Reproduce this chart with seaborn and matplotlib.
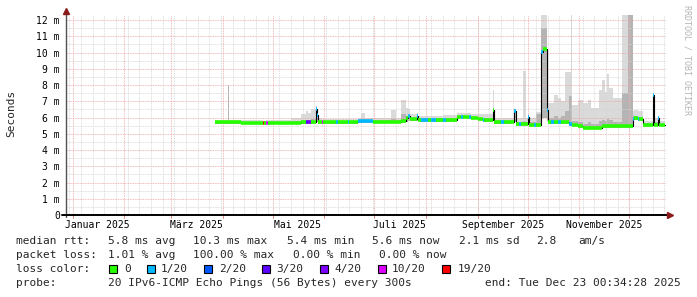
import matplotlib
matplotlib.use("Agg")
import matplotlib.pyplot as plt
import seaborn as sns
import pandas as pd
from matplotlib.patches import Rectangle

# ---------------- data ----------------
dates = [
    "2025-03-27 12:00", "2025-04-04 00:00", "2025-04-04 18:00", "2025-04-12 00:00", "2025-04-25 00:00",
    "2025-04-26 00:00", "2025-04-27 00:00", "2025-04-28 00:00", "2025-05-12 00:00", "2025-05-18 00:00",
    "2025-05-21 00:00", "2025-05-22 12:00", "2025-05-24 00:00", "2025-05-27 06:00", "2025-05-27 20:00",
    "2025-05-28 12:00", "2025-05-30 12:00", "2025-05-31 06:00", "2025-06-08 00:00", "2025-06-09 00:00",
    "2025-06-15 00:00", "2025-06-16 00:00", "2025-06-21 00:00", "2025-06-23 00:00", "2025-06-25 12:00",
    "2025-06-30 00:00", "2025-07-11 00:00", "2025-07-14 00:00", "2025-07-17 00:00", "2025-07-20 00:00",
    "2025-07-21 00:00", "2025-07-22 06:00", "2025-07-26 12:00", "2025-07-27 12:00", "2025-07-29 00:00",
    "2025-08-02 00:00", "2025-08-04 00:00", "2025-08-07 00:00", "2025-08-11 00:00", "2025-08-13 00:00",
    "2025-08-19 12:00", "2025-08-22 00:00", "2025-08-23 00:00", "2025-08-27 00:00", "2025-08-28 00:00",
    "2025-09-01 00:00", "2025-09-04 00:00", "2025-09-05 00:00", "2025-09-10 00:00", "2025-09-11 00:00",
    "2025-09-15 00:00", "2025-09-17 00:00", "2025-09-23 00:00", "2025-09-24 00:00", "2025-09-26 00:00",
    "2025-09-27 00:00", "2025-09-28 00:00", "2025-09-30 00:00", "2025-10-01 00:00", "2025-10-02 00:00",
    "2025-10-05 00:00", "2025-10-06 00:00", "2025-10-09 00:00", "2025-10-10 12:00", "2025-10-12 12:00",
    "2025-10-13 12:00", "2025-10-15 00:00", "2025-10-17 00:00", "2025-10-19 00:00", "2025-10-21 00:00",
    "2025-10-23 12:00", "2025-10-26 00:00", "2025-10-27 00:00", "2025-10-27 16:00", "2025-10-31 00:00",
    "2025-11-03 00:00", "2025-11-06 00:00", "2025-11-08 00:00", "2025-11-13 00:00", "2025-11-14 12:00",
    "2025-11-16 12:00", "2025-11-17 12:00", "2025-11-19 00:00", "2025-11-21 00:00", "2025-11-26 12:00",
    "2025-11-30 00:00", "2025-12-03 00:00", "2025-12-04 00:00", "2025-12-06 00:00", "2025-12-07 00:00",
    "2025-12-09 00:00", "2025-12-15 00:00", "2025-12-16 00:00", "2025-12-18 00:00", "2025-12-18 18:00",
]
data_end = "2025-12-22 14:00"

median_ms = [
    5.72, 5.70, 5.70, 5.68, 5.66, 5.68, 5.68, 5.68, 5.68, 5.70,
    5.74, 5.74, 5.70, 6.50, 6.15, 5.70, 5.72, 5.72, 5.72, 5.72,
    5.74, 5.72, 5.76, 5.76, 5.76, 5.74, 5.74, 5.75, 5.78, 5.95,
    6.12, 5.90, 6.10, 5.85, 5.85, 5.85, 5.85, 5.85, 5.85, 5.85,
    6.05, 6.05, 6.05, 6.03, 5.98, 5.93, 5.83, 5.83, 6.45, 5.72,
    5.72, 5.72, 6.40, 5.58, 5.58, 5.58, 5.58, 5.58, 6.05, 5.55,
    5.55, 5.55, 10.05, 10.20, 6.45, 5.75, 5.75, 5.75, 5.75, 5.75,
    5.72, 5.62, 5.60, 5.55, 5.45, 5.37, 5.37, 5.37, 5.37, 5.48,
    5.48, 5.48, 5.48, 5.48, 5.48, 5.48, 5.92, 5.95, 5.92, 5.92,
    5.55, 7.40, 5.55, 5.95, 5.55,
]
loss = [
    0, 0, 0, 0, 19, 0, 10, 0, 0, 0,
    3, 4, 0, 1, 1, 0, 10, 0, 1, 0,
    1, 0, 1, 1, 1, 0, 0, 0, 0, 0,
    1, 0, 1, 0, 1, 0, 1, 0, 1, 0,
    0, 1, 0, 1, 0, 0, 1, 0, 0, 0,
    1, 0, 1, 0, 1, 0, 0, 0, 1, 0,
    1, 0, 1, 0, 1, 0, 1, 0, 1, 0,
    0, 1, 1, 0, 0, 0, 0, 0, 0, 0,
    0, 0, 0, 0, 0, 0, 1, 0, 1, 0,
    0, 1, 0, 1, 0,
]
smoke_lo = [
    5.62, 5.60, 5.60, 5.58, 5.58, 5.58, 5.58, 5.58, 5.58, 5.60,
    5.62, 5.62, 5.60, 5.70, 5.70, 5.60, 5.62, 5.62, 5.62, 5.62,
    5.64, 5.62, 5.66, 5.66, 5.66, 5.64, 5.64, 5.64, 5.66, 5.75,
    5.80, 5.78, 5.80, 5.75, 5.75, 5.75, 5.75, 5.75, 5.75, 5.75,
    5.95, 5.95, 5.95, 5.93, 5.88, 5.83, 5.73, 5.73, 5.80, 5.62,
    5.62, 5.62, 5.70, 5.48, 5.48, 5.48, 5.48, 5.48, 5.55, 5.45,
    5.45, 5.45, 6.00, 6.00, 5.80, 5.62, 5.62, 5.62, 5.62, 5.62,
    5.60, 5.50, 5.50, 5.45, 5.35, 5.28, 5.28, 5.28, 5.28, 5.38,
    5.38, 5.38, 5.38, 5.38, 5.38, 5.38, 5.80, 5.82, 5.80, 5.80,
    5.45, 5.60, 5.45, 5.50, 5.45,
]
smoke_mid = [
    5.76, 8.00, 5.75, 5.73, 5.72, 5.72, 5.72, 5.73, 5.76, 5.80,
    5.85, 5.85, 5.90, 6.30, 6.20, 5.80, 5.78, 5.78, 5.78, 5.78,
    5.80, 5.78, 5.85, 5.90, 5.85, 5.82, 5.90, 5.85, 6.20, 6.10,
    6.20, 6.00, 6.15, 5.95, 5.95, 5.95, 5.95, 5.95, 5.95, 5.95,
    6.12, 6.12, 6.12, 6.10, 6.05, 6.00, 5.95, 5.95, 6.60, 5.82,
    5.82, 5.82, 6.45, 5.70, 5.70, 5.75, 5.80, 5.75, 6.10, 5.70,
    5.70, 6.20, 11.50, 11.50, 9.00, 6.00, 6.00, 6.10, 6.00, 6.10,
    6.40, 7.30, 7.30, 5.80, 5.70, 5.60, 5.70, 5.60, 5.80, 5.85,
    5.80, 5.90, 5.85, 5.75, 7.50, 12.40, 6.10, 6.10, 6.05, 6.05,
    5.65, 7.40, 5.70, 6.00, 5.65,
]
smoke_hi = [
    5.86, 8.00, 5.85, 5.82, 5.80, 5.80, 5.82, 5.84, 5.95, 6.20,
    6.40, 6.30, 6.50, 6.70, 6.40, 6.00, 5.90, 5.90, 5.90, 5.90,
    5.92, 5.92, 6.00, 6.30, 6.00, 5.95, 6.45, 6.00, 7.10, 6.60,
    6.50, 6.20, 6.30, 6.10, 6.10, 6.10, 6.12, 6.12, 6.15, 6.15,
    6.25, 6.25, 6.25, 6.25, 6.22, 6.20, 6.20, 6.20, 7.70, 6.00,
    6.00, 6.00, 6.55, 5.95, 5.95, 6.00, 8.85, 6.00, 6.20, 5.95,
    6.00, 6.35, 12.40, 12.40, 10.00, 6.90, 6.90, 7.40, 7.20, 7.00,
    8.80, 8.80, 12.30, 6.80, 7.10, 6.90, 7.10, 6.60, 7.70, 8.30,
    7.60, 8.70, 7.80, 7.20, 12.40, 12.40, 6.40, 6.45, 6.40, 6.40,
    5.80, 7.50, 6.00, 6.05, 5.80,
]
assert len(dates) == len(median_ms) == len(loss) == len(smoke_lo) == len(smoke_mid) == len(smoke_hi)

loss_levels = [0, 1, 2, 3, 4, 10, 19]
loss_colors = ["#26ff00", "#00b8ff", "#0059ff", "#5e00ff", "#7e00ff", "#dd00ff", "#ff0000"]
loss_labels = ["0", "1/20", "2/20", "3/20", "4/20", "10/20", "19/20"]

month_labels = ["Januar 2025", "März 2025", "Mai 2025", "Juli 2025", "September 2025", "November 2025"]
month_label_dates = ["2025-01-16", "2025-03-16", "2025-05-16", "2025-07-16", "2025-09-16", "2025-11-16"]
ytick_values = list(range(0, 13))
ytick_labels = ["0"] + [f"{v} m" for v in range(1, 13)]

x_start = "2024-12-28 00:34"
x_end = "2025-12-23 00:34"

legend_rows = [
    ["median rtt:", "5.8 ms avg", "10.3 ms max", "5.4 ms min", "5.6 ms now", "2.1 ms sd", "2.8", "am/s"],
    ["packet loss:", "1.01 % avg", "100.00 % max", "0.00 % min", "0.00 % now"],
]
probe_text = "20 IPv6-ICMP Echo Pings (56 Bytes) every 300s"
end_text = "end: Tue Dec 23 00:34:28 2025"

# ---------------- figure ----------------
sns.set_style("white")
plt.rcParams["font.family"] = ["DejaVu Sans Mono"]
plt.rcParams["axes.unicode_minus"] = False

W, H = 697, 297
fig = plt.figure(figsize=(W / 100, H / 100), dpi=100)
fig.patch.set_facecolor("white")
ax = fig.add_axes([66 / W, 82 / H, 600 / W, 200 / H])
ax.set_facecolor("white")
for s in ax.spines.values():
    s.set_visible(False)

df = pd.DataFrame({
    "date": pd.to_datetime(dates),
    "median": median_ms,
    "loss": loss,
    "lo": smoke_lo,
    "mid": smoke_mid,
    "hi": smoke_hi,
})
df["end"] = list(df["date"].iloc[1:]) + [pd.Timestamp(data_end)]
ext = pd.concat([df, df.iloc[[-1]].assign(date=pd.Timestamp(data_end))], ignore_index=True)

ax.set_xlim(pd.Timestamp(x_start), pd.Timestamp(x_end))
ax.set_ylim(0, 12.31)

# smoke
ax.fill_between(ext["date"], ext["lo"], ext["hi"], step="post", color="#dadada", lw=0, zorder=1)
ax.fill_between(ext["date"], ext["lo"], ext["mid"], step="post", color="#b4b4b4", lw=0, zorder=1.2)

# grid (drawn above the smoke, below the lines)
dot = (0, (1, 1))
mondays = pd.date_range("2024-12-30", x_end, freq="7D")
months = pd.date_range("2025-01-01", "2025-12-01", freq="MS")
for d in mondays:
    ax.axvline(d, color="#d4d4d4", lw=0.6, ls=dot, zorder=1.5)
for v in [i + 0.5 for i in range(0, 13)]:
    ax.axhline(v, color="#d4d4d4", lw=0.6, ls=dot, zorder=1.5)
for v in range(1, 13):
    ax.axhline(v, color="#eca4a4", lw=0.6, ls=dot, zorder=1.6)
for d in months:
    ax.axvline(d, color="#eca4a4", lw=0.6, ls=dot, zorder=1.6)
    ax.axvline(d, ymin=-0.015, ymax=0, color="#e08a8a", lw=0.7, clip_on=False)

# thin black median line
sns.lineplot(data=ext, x="date", y="median", drawstyle="steps-post", color="#000000",
             lw=0.8, ax=ax, legend=False, zorder=2, estimator=None)

# loss-coloured median segments
for lvl, col in zip(loss_levels, loss_colors):
    sub = df[df["loss"] == lvl]
    if len(sub):
        ax.hlines(sub["median"], sub["date"], sub["end"], colors=col, lw=2.6, zorder=3)

ax.set_xlabel("")
ax.set_ylabel("")

# ticks
ax.set_yticks(ytick_values)
ax.set_yticklabels(ytick_labels)
ax.tick_params(axis="y", length=2.2, width=0.7, color="#808080", pad=2.2, labelsize=7, labelcolor="#000000")
ax.set_xticks(pd.to_datetime(month_label_dates))
ax.set_xticklabels(month_labels)
ax.tick_params(axis="x", length=0, pad=3.5, labelsize=7, labelcolor="#000000")

# axis lines and arrows
ax.plot([0, 0], [-0.012, 1.01], transform=ax.transAxes, color="#505050", lw=1.0, clip_on=False, zorder=5)
ax.plot([-0.007, 1.004], [0, 0], transform=ax.transAxes, color="#000000", lw=1.4, clip_on=False, zorder=5)
ax.plot(0, 1.02, marker="^", ms=4, color="#8b1a1a", transform=ax.transAxes, clip_on=False, zorder=6)
ax.plot(1.007, 0, marker=">", ms=4, color="#8b1a1a", transform=ax.transAxes, clip_on=False, zorder=6)

# y label
fig.text(11 / W, 1 - 113 / H, "Seconds", rotation=90, ha="center", va="center", fontsize=8)

# watermark
fig.text(687 / W, 1 - 60 / H, "RRDTOOL / TOBI OETIKER", rotation=270, ha="center", va="center",
         fontsize=6, color="#b4b4b4")

# legend block
def ftxt(x, y, s, **kw):
    fig.text(x / W, 1 - y / H, s, va="center", fontsize=8, **kw)

row1_x = [16, 108, 193, 287, 372, 459, 536, 578]
for x, s in zip(row1_x, legend_rows[0]):
    ftxt(x, 241, s)
row2_x = [16, 108, 193, 293, 379]
for x, s in zip(row2_x, legend_rows[1]):
    ftxt(x, 255, s)

ftxt(16, 269, "loss color:")
box_x = [109, 147, 204, 262, 320, 378, 442]
lab_x = [124, 161, 219, 276, 334, 392, 458]
for bx, lx, col, lab in zip(box_x, lab_x, loss_colors, loss_labels):
    fig.add_artist(Rectangle((bx / W, 1 - 273 / H), 8 / W, 8 / H, transform=fig.transFigure,
                             facecolor=col, edgecolor="#000000", lw=0.8))
    ftxt(lx, 269, lab)

ftxt(16, 283, "probe:")
ftxt(108, 283, probe_text)
fig.text(681 / W, 1 - 283 / H, end_text, va="center", ha="right", fontsize=8)

fig.savefig("out.png", dpi=100, facecolor="white")
